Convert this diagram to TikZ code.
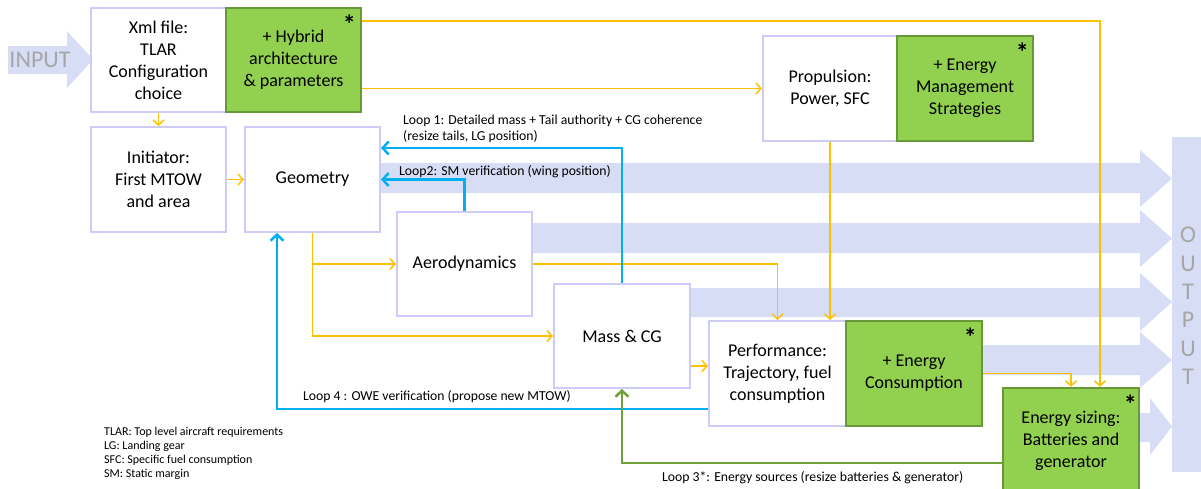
\documentclass[tikz,border=0pt]{standalone}
\usepackage{fontspec}
\setmainfont{Carlito}
\usetikzlibrary{arrows.meta,calc}
\definecolor{lav}{RGB}{204,204,247}
\definecolor{lb}{RGB}{215,221,245}
\definecolor{grn}{RGB}{146,208,80}
\definecolor{dgrn}{RGB}{104,152,56}
\definecolor{yel}{RGB}{255,192,0}
\definecolor{blu}{RGB}{0,176,240}
\definecolor{lgrn}{RGB}{112,160,56}
\definecolor{gtxt}{RGB}{166,166,166}
\tikzset{
  box/.style={draw=lav, line width=2pt, fill=white, align=center, inner sep=0pt,
    font=\fontsize{18}{22}\selectfont, text=black},
  gbox/.style={box, draw=dgrn, line width=2.5pt, fill=grn},
  sz/.style 2 args={minimum width=#1pt, minimum height=#2pt},
  ast/.style={inner sep=0pt, font=\fontsize{26}{26}\selectfont\bfseries},
  ya/.style={draw=yel, line width=1.5pt, -{Straight Barb[length=5pt,width=11pt]}},
  ba/.style={draw=blu, line width=2.5pt, -{Straight Barb[length=6pt,width=13pt]}},
  ga/.style={draw=lgrn, line width=2.5pt, -{Straight Barb[length=6pt,width=13pt]}},
  lbl/.style={inner sep=0pt, anchor=west, align=left, font=\fontsize{13.7}{16}\selectfont},
  legend/.style={inner sep=0pt, anchor=west, align=left, font=\fontsize{12}{14}\selectfont},
  big/.style={inner sep=0pt, text=gtxt, font=\fontsize{24}{28.4}\selectfont, align=center}
}
\begin{document}
\begin{tikzpicture}[x=1pt,y=-1pt]
\useasboundingbox (0,0) rectangle (1201,488);
\clip (0,0) rectangle (1201,488);

% input arrow
\fill[lb] (8,46) -- (67,46) -- (67,31) -- (93,59.5) -- (67,88) -- (67,74) -- (8,74) -- cycle;
\node[big] (inlbl) at (40,60) {INPUT};

% output arrows and column
\foreach \xa/\yt/\yb/\ht/\hb/\xb in {375/163/193/150/207/1140, 528/223/253/210/267/1140, 686/288/317/273/331/1140, 978/345/375/332/388/1140, 1135/413/442/398/455/1150}
  \fill[lb] (\xa,\yt) -- (\xb,\yt) -- (\xb,\ht) -- (1172,{(\ht+\hb)/2}) -- (\xb,\hb) -- (\xb,\yb) -- (\xa,\yb) -- cycle;
\fill[lb] (1172,137) rectangle (1201,472);
\node[big] (outlbl) at (1188,306) {O\\U\\T\\P\\U\\T};

% boxes
\node[box, sz={135}{104}] (xml) at (158.5,60) {Xml file:\\TLAR\\Configuration\\choice};
\node[gbox, sz={135}{104}] (hyb) at (293.5,60) {+ Hybrid\\architecture\\\& parameters};
\node[box, sz={134}{105}] (prop) at (830,88.5) {Propulsion:\\Power, SFC};
\node[gbox, sz={136}{105}] (ems) at (965,88.5) {+ Energy\\Management\\Strategies};
\node[box, sz={135}{105}] (init) at (158.5,179.5) {Initiator:\\First MTOW\\and area};
\node[box, sz={135}{105}] (geom) at (312.5,179.5) {Geometry};
\node[box, sz={135}{104}] (aero) at (464.5,264) {Aerodynamics};
\node[box, sz={136}{104}] (mass) at (622,336) {Mass \& CG};
\node[box, sz={137}{105}] (perf) at (777.5,373.5) {Performance:\\Trajectory, fuel\\consumption};
\node[gbox, sz={136}{105}] (econ) at (914,373.5) {+ Energy\\Consumption};
\node[gbox, sz={136}{105}] (esz) at (1071,440.5) {Energy sizing:\\Batteries and\\generator};

% asterisks
\node[ast] (s1) at ([xshift=-13pt,yshift=-17pt]hyb.north east) {*};
\node[ast] (s2) at ([xshift=-12pt,yshift=-17pt]ems.north east) {*};
\node[ast] (s3) at ([xshift=-13pt,yshift=-17pt]econ.north east) {*};
\node[ast] (s4) at ([xshift=-10pt,yshift=-17pt]esz.north east) {*};

% yellow data flow
\draw[ya] (xml.south) -- (init.north);
\draw[ya] (init.east) -- (geom.west);
\draw[ya] ([yshift=-14pt]hyb.north east) -| ([xshift=29pt]esz.north);
\draw[ya] (hyb.east |- prop.west) -- (prop.west);
\draw[ya] (prop.south) -- (prop.south |- perf.north);
\draw[ya] (geom.south) |- (mass.west);
\draw[ya] (geom.south |- aero.west) -- (aero.west);
\draw[ya] (aero.east) -| (perf.north);
\draw[ya] ([yshift=-30pt]mass.east) -- ([yshift=-30pt]mass.east -| perf.west);
\draw[ya] (econ.east) -| (esz.north);

% loops
\draw[ba] (mass.north) |- ([yshift=-22pt]geom.north east);
\draw[ba] (aero.north) |- (geom.east);
\draw[ba] ([yshift=-35.5pt]perf.west) -| ([xshift=-35.5pt]geom.south);
\draw[ga] ([yshift=-22.5pt]esz.west) -| (mass.south);

% labels
\node[lbl] (l1) at (403,129) {Loop 1: Detailed mass + Tail authority + CG coherence\\(resize tails, LG position)};
\node[lbl] (l2) at (399,172) {Loop2: SM verification (wing position)};
\node[lbl] (l4) at (303,397) {Loop 4 : OWE verification (propose new MTOW)};
\node[lbl] (l3) at (662,478) {Loop 3*: Energy sources (resize batteries \& generator)};
\node[legend] (leg) at (104,453) {TLAR: Top level aircraft requirements\\LG: Landing gear\\SFC: Specific fuel consumption\\SM: Static margin};
\end{tikzpicture}
\end{document}
